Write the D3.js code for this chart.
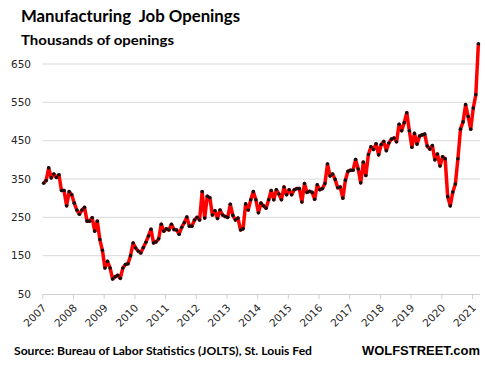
<!DOCTYPE html>
<html><head><meta charset="utf-8">
<script src="https://cdn.jsdelivr.net/npm/d3@7"></script>
<style>body{margin:0;background:#fff}svg{display:block}text{white-space:pre}</style>
</head><body><svg id="c" width="485" height="367"></svg>
<script>
const title = "Manufacturing  Job Openings";
const subtitle = "Thousands of openings";
const source = "Source: Bureau of Labor Statistics (JOLTS), St. Louis Fed";
const brand = "WOLFSTREET.com";
const startYear = 2007;
const tickYears = [2007,2008,2009,2010,2011,2012,2013,2014,2015,2016,2017,2018,2019,2020,2021];
const yTicks = [50,150,250,350,450,550,650];
// Monthly manufacturing job openings (thousands), Jan 2007 - Mar 2021
const openings = [
 339,346,379,353,363,354,361,320,320,280,317,309,
 287,269,258,269,276,240,240,249,214,240,192,164,
 118,135,118,89,95,99,91,118,127,129,150,183,
 170,162,157,171,185,201,219,183,186,194,232,214,
 220,217,232,218,217,206,224,236,251,227,227,243,
 250,243,317,248,305,301,256,267,247,269,256,252,
 250,284,255,243,248,217,220,285,269,296,317,296,
 262,287,280,274,296,320,296,322,311,296,329,309,
 322,309,322,325,325,290,338,315,318,315,297,335,
 322,325,338,389,358,363,349,327,329,300,347,370,
 373,373,401,376,340,394,359,414,434,427,442,413,
 440,448,424,444,454,457,447,493,476,497,523,476,
 433,469,441,462,465,467,436,428,437,400,415,384,
 408,403,304,280,316,337,403,480,499,544,513,480,
 535,570,703
];

const svg = d3.select("#c");
const x = d3.scaleLinear().domain([0, (tickYears[tickYears.length-1]-startYear)*12]).range([42.3, 472]);
const y = d3.scaleLinear().domain([50, 650]).range([294, 64]);
const xR = 480;

// gridlines
svg.append("g").selectAll("line").data(yTicks.filter(d=>d>50)).join("line")
  .attr("x1", x(0)).attr("x2", xR).attr("y1", d=>y(d)).attr("y2", d=>y(d))
  .attr("stroke", "#d9d9d9").attr("stroke-width", 1);

// y labels
svg.append("g").selectAll("text").data(yTicks).join("text")
  .attr("x", 31).attr("y", d=>y(d)).attr("dy", "0.36em")
  .attr("text-anchor", "end")
  .style("font-family", "DejaVu Sans, Verdana, sans-serif").style("font-size", "10.5px")
  .attr("fill", "#262626").text(d=>d);

// x axis
const xAxis = d3.axisBottom(x).tickValues(tickYears.map(yr=>(yr-startYear)*12))
  .tickSize(5).tickFormat("");
const gx = svg.append("g").attr("transform", `translate(0,${y(50)})`).call(xAxis);
gx.select(".domain").attr("stroke", "#d0d0d0").attr("d", `M${x(0)},0.5H${xR}`);
gx.selectAll(".tick line").attr("stroke", "#d0d0d0");

svg.append("g").selectAll("text").data(tickYears).join("text")
  .attr("transform", d=>`translate(${x((d-startYear)*12)+4.7},308.5) rotate(-45)`)
  .attr("text-anchor", "end")
  .style("font-family", "DejaVu Sans, Verdana, sans-serif").style("font-size", "10.5px")
  .attr("fill", "#262626").text(d=>d);

// line
const line = d3.line().x((d,i)=>x(i+0.5)).y(d=>y(d));
svg.append("path").datum(openings).attr("d", line)
  .attr("fill", "none").attr("stroke", "#ff0000").attr("stroke-width", 3.5)
  .attr("stroke-linejoin", "round");
svg.append("g").selectAll("circle").data(openings).join("circle")
  .attr("cx", (d,i)=>x(i+0.5)).attr("cy", d=>y(d)).attr("r", 1.8).attr("fill", "#111");

// titles
svg.append("text").attr("x", 21).attr("y", 21.5).attr("xml:space", "preserve").text(title)
  .style("font-family", "Lato, sans-serif").style("font-weight", "bold").style("font-size", "17px")
  .attr("textLength", 219).attr("lengthAdjust", "spacingAndGlyphs").attr("fill", "#000");
svg.append("text").attr("x", 21).attr("y", 44.5).text(subtitle)
  .style("font-family", "Lato, sans-serif").style("font-weight", "bold").style("font-size", "13px")
  .attr("textLength", 153).attr("lengthAdjust", "spacingAndGlyphs").attr("fill", "#000");
svg.append("text").attr("x", 14).attr("y", 354.5).text(source)
  .style("font-family", "Lato, sans-serif").style("font-weight", "bold").style("font-size", "11px")
  .attr("textLength", 298).attr("lengthAdjust", "spacingAndGlyphs").attr("fill", "#000");
svg.append("text").attr("x", 362).attr("y", 355).text(brand)
  .style("font-family", "Liberation Sans, Arial, sans-serif").style("font-weight", "bold").style("font-size", "13.5px")
  .attr("textLength", 118).attr("lengthAdjust", "spacingAndGlyphs").attr("fill", "#000");
</script></body></html>
